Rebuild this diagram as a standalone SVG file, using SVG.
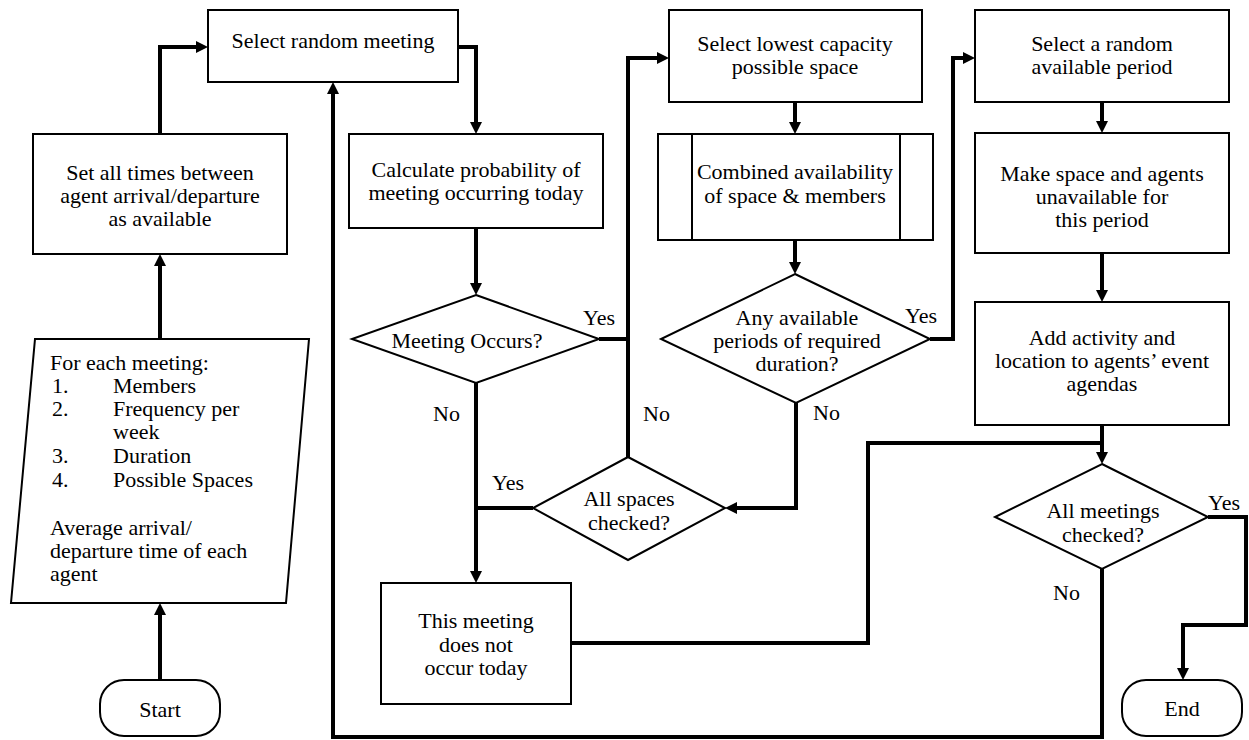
<svg xmlns="http://www.w3.org/2000/svg" width="1249" height="740" viewBox="0 0 1249 740">
<style>
.s{fill:#fff;stroke:#000;stroke-width:2}
.c{fill:none;stroke:#000;stroke-width:4;stroke-linejoin:miter}
text{font-family:"Liberation Serif","Times New Roman",serif;font-size:22px;fill:#000}
.m{text-anchor:middle}
</style>
<defs>
<marker id="a" markerUnits="userSpaceOnUse" markerWidth="12" markerHeight="12" viewBox="0 0 12 12" refX="2" refY="6" orient="auto">
<path d="M0,0 L12,6 L0,12 z" fill="#000"/>
</marker>
</defs>
<rect width="1249" height="740" fill="#fff"/>
<g id="connectors">
<path class="c" d="M160,680 V613" marker-end="url(#a)"/>
<path class="c" d="M160,339 V264" marker-end="url(#a)"/>
<path class="c" d="M160,134 V47 H198" marker-end="url(#a)"/>
<path class="c" d="M458,47 H476 V124" marker-end="url(#a)"/>
<path class="c" d="M476,228 V285" marker-end="url(#a)"/>
<path class="c" d="M599,339 H628"/>
<path class="c" d="M628,457 V58 H659" marker-end="url(#a)"/>
<path class="c" d="M476,383 V573" marker-end="url(#a)"/>
<path class="c" d="M533,508 H476"/>
<path class="c" d="M795,102 V124" marker-end="url(#a)"/>
<path class="c" d="M795,240 V264" marker-end="url(#a)"/>
<path class="c" d="M930,339 H953 V58 H965" marker-end="url(#a)"/>
<path class="c" d="M796,403 V508 H735" marker-end="url(#a)"/>
<path class="c" d="M1102,102 V123" marker-end="url(#a)"/>
<path class="c" d="M1102,253 V292" marker-end="url(#a)"/>
<path class="c" d="M1102,425 V454" marker-end="url(#a)"/>
<path class="c" d="M571,643 H868 V443 H1102"/>
<path class="c" d="M1208,517 H1246 V625 H1183 V670" marker-end="url(#a)"/>
<path class="c" d="M1102,569 V737 H333 V92" marker-end="url(#a)"/>
</g>
<g id="labels">
<text x="583" y="325">Yes</text>
<text x="433" y="421">No</text>
<text x="643" y="421">No</text>
<text x="492" y="490">Yes</text>
<text x="905" y="323">Yes</text>
<text x="813" y="420">No</text>
<text x="1208" y="510">Yes</text>
<text x="1053" y="600">No</text>
</g>
<g id="start">
<rect class="s" x="100" y="680" width="120" height="56" rx="24"/>
<text class="m" x="160" y="717">Start</text>
</g>
<g id="input">
<polygon class="s" points="35,339 309,339 286,603 11,603"/>
<text x="50" y="370">For each meeting:</text>
<text x="52" y="393">1.</text><text x="113" y="393">Members</text>
<text x="52" y="416">2.</text><text x="113" y="416">Frequency per</text>
<text x="113" y="439">week</text>
<text x="52" y="463">3.</text><text x="113" y="463">Duration</text>
<text x="52" y="487">4.</text><text x="113" y="487">Possible Spaces</text>
<text x="50" y="535">Average arrival/</text>
<text x="50" y="558">departure time of each</text>
<text x="50" y="581">agent</text>
</g>
<g id="set-times">
<rect class="s" x="33" y="134" width="254" height="120"/>
<text class="m" x="160" y="180">Set all times between</text>
<text class="m" x="160" y="203">agent arrival/departure</text>
<text class="m" x="160" y="226">as available</text>
</g>
<g id="select-meeting">
<rect class="s" x="208" y="10" width="250" height="72"/>
<text class="m" x="333" y="48">Select random meeting</text>
</g>
<g id="calculate">
<rect class="s" x="349" y="134" width="254" height="94"/>
<text class="m" x="476" y="177">Calculate probability of</text>
<text class="m" x="476" y="200">meeting occurring today</text>
</g>
<g id="meeting-occurs">
<polygon class="s" points="476,295 599,339 476,383 352,339"/>
<text class="m" x="467" y="348">Meeting Occurs?</text>
</g>
<g id="all-spaces">
<polygon class="s" points="628,457 725,508 628,560 533,508"/>
<text class="m" x="629" y="506">All spaces</text>
<text class="m" x="629" y="530">checked?</text>
</g>
<g id="not-occur">
<rect class="s" x="381" y="583" width="190" height="121"/>
<text class="m" x="476" y="628">This meeting</text>
<text class="m" x="476" y="652">does not</text>
<text class="m" x="476" y="675">occur today</text>
</g>
<g id="select-space">
<rect class="s" x="669" y="10" width="253" height="92"/>
<text class="m" x="795" y="51">Select lowest capacity</text>
<text class="m" x="795" y="74">possible space</text>
</g>
<g id="combined">
<rect class="s" x="658" y="134" width="275" height="106"/>
<line class="s" x1="692" y1="134" x2="692" y2="240"/>
<line class="s" x1="900" y1="134" x2="900" y2="240"/>
<text class="m" x="795" y="179">Combined availability</text>
<text class="m" x="795" y="203">of space &amp; members</text>
</g>
<g id="any-available">
<polygon class="s" points="795,274 930,339 796,403 661,339"/>
<text class="m" x="797" y="325">Any available</text>
<text class="m" x="797" y="348">periods of required</text>
<text class="m" x="797" y="371">duration?</text>
</g>
<g id="select-period">
<rect class="s" x="975" y="10" width="254" height="92"/>
<text class="m" x="1102" y="51">Select a random</text>
<text class="m" x="1102" y="74">available period</text>
</g>
<g id="make-unavailable">
<rect class="s" x="975" y="133" width="254" height="120"/>
<text class="m" x="1102" y="181">Make space and agents</text>
<text class="m" x="1102" y="204">unavailable for</text>
<text class="m" x="1102" y="227">this period</text>
</g>
<g id="add-activity">
<rect class="s" x="975" y="302" width="254" height="123"/>
<text class="m" x="1102" y="345">Add activity and</text>
<text class="m" x="1102" y="368">location to agents’ event</text>
<text class="m" x="1102" y="391">agendas</text>
</g>
<g id="all-meetings">
<polygon class="s" points="1102,464 1208,517 1102,569 995,517"/>
<text class="m" x="1103" y="518">All meetings</text>
<text class="m" x="1103" y="542">checked?</text>
</g>
<g id="end">
<rect class="s" x="1122" y="680" width="120" height="56" rx="24"/>
<text class="m" x="1182" y="716">End</text>
</g>
</svg>
